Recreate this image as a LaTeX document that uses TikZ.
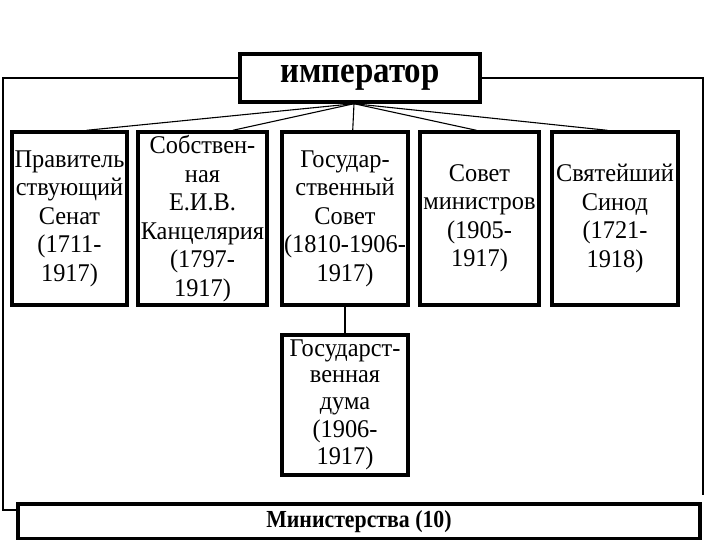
\documentclass[tikz,border=0pt]{standalone}
\usepackage{fontspec}
\setmainfont{Liberation Serif}[FakeStretch=0.955]
\newfontfamily\headfont{Liberation Serif}[FakeStretch=0.89]
\usepackage{tikz}
\usetikzlibrary{positioning}

\begin{document}
\begin{tikzpicture}[x=1pt,y=-1pt,
  organ/.style={draw,line width=3.4pt,inner sep=0pt,align=center,
    font=\fontsize{25.5}{28.5}\selectfont},
  link/.style={line width=1.1pt}]
\useasboundingbox (0,0) rectangle (720,540);

\node[organ,minimum width=240pt,minimum height=48pt,font=\headfont\fontsize{37}{40}\selectfont\bfseries] (emp) at (360,78) {император};

\node[organ,minimum width=115pt,minimum height=173pt] (sen) at (69.5,218.5) {Правитель\\ствующий\\Сенат\\(1711-\\1917)};
\node[organ,minimum width=129pt,minimum height=173pt] (kanc) at (202.5,218.5) {Собствен-\\ная\\Е.И.В.\\Канцелярия\\(1797-\\1917)};
\node[organ,minimum width=126pt,minimum height=173pt] (gos) at (345,218.5) {Государ-\\ственный\\Совет\\(1810-1906-\\1917)};
\node[organ,minimum width=119pt,minimum height=173pt] (smin) at (479.5,218.5) {Совет\\министров\\(1905-\\1917)};
\node[organ,minimum width=126pt,minimum height=173pt] (sin) at (615,218.5) {Святейший\\Синод\\(1721-\\1918)};

\node[organ,minimum width=126pt,minimum height=140pt,font=\fontsize{25.5}{27.5}\selectfont] (duma) at (345,405) {\raisebox{-2pt}{Государст-}\\венная\\дума\\(1906-\\1917)};
\node[organ,minimum width=682pt,minimum height=35pt,font=\headfont\fontsize{24.5}{26}\selectfont\bfseries] (min) at (359,521.5) {Министерства (10)};

% lines from the emperor
\coordinate (hub) at ([xshift=-6pt]emp.south);
\draw[link] (hub) -- (sen.79);
\draw[link] (hub) -- (kanc.71);
\draw[link] (hub) -- (gos.85);
\draw[link] (hub) -- (smin.92);
\draw[link] (hub) -- (sin.95);
\draw[link] (gos.south) -- (duma.north);

% outer frame
\coordinate (lc) at (3,510);
\coordinate (rc) at (703,495);
\draw[link] (emp.west) -| (lc) -- (lc -| min.west);
\draw[link] (emp.east) -| (rc);
\end{tikzpicture}
\end{document}
